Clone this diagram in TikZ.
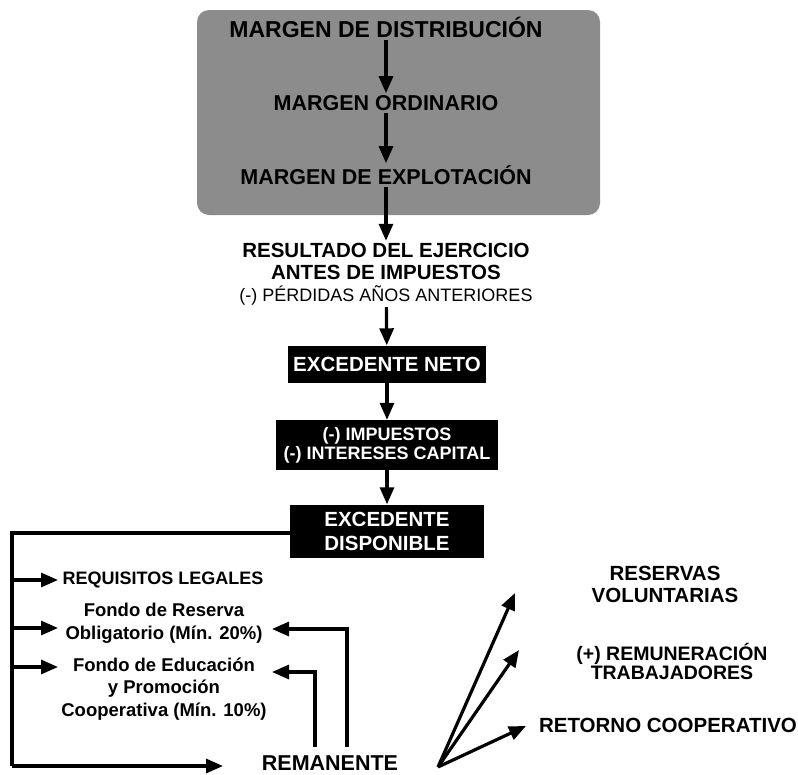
\documentclass[tikz,border=0pt]{standalone}
\usepackage{fontspec}
\setmainfont{Liberation Sans}
\usetikzlibrary{arrows.meta}

\begin{document}
\begin{tikzpicture}[x=1pt, y=-1pt,
		arr/.style={line width=3.2pt, -{Triangle[length=17pt, width=14pt]}},
		plain/.style={line width=3.2pt},
		darkbox/.style={fill=black, text=white, font=\fontsize{18}{19}\selectfont\bfseries, align=center, inner sep=0pt},
		bigtxt/.style={font=\fontsize{20.5}{22}\selectfont\bfseries, align=center, inner sep=2pt},
		smalltxt/.style={font=\fontsize{18.5}{22.5}\selectfont\bfseries, align=center, inner sep=2pt}]
		\useasboundingbox (0,0) rectangle (798,774);
		% margenes
		\fill[black!45, rounded corners=12pt] (197,10) rectangle (600,215);
		\node[bigtxt, font=\fontsize{23}{24}\selectfont\bfseries] (dist) at (386,27) {MARGEN DE DISTRIBUCIÓN};
		\node[bigtxt, font=\fontsize{21.5}{24}\selectfont\bfseries] (ord) at (386,103) {MARGEN ORDINARIO};
		\node[bigtxt, font=\fontsize{21.5}{24}\selectfont\bfseries] (expl) at (386,175) {MARGEN DE EXPLOTACIÓN};
		\node[bigtxt] (res) at (386,274) {RESULTADO DEL EJERCICIO\\ANTES DE IMPUESTOS\\{\fontsize{18}{20}\selectfont\mdseries (-) PÉRDIDAS AÑOS ANTERIORES}};
		\draw[arr] (dist) -- (ord);
		\draw[arr] (ord) -- (expl);
		\draw[arr] (expl) -- (res);
		% cajas negras
		\node[darkbox, minimum width=198pt, minimum height=37pt, font=\fontsize{20.5}{22}\selectfont\bfseries] (neto) at (387,364) {EXCEDENTE NETO};
		\node[darkbox, minimum width=222pt, minimum height=50pt] (imp) at (387,445) {(-) IMPUESTOS\\(-) INTERESES CAPITAL};
		\node[darkbox, minimum width=194pt, minimum height=53pt, font=\fontsize{20.5}{24}\selectfont\bfseries] (disp) at (387,531) {EXCEDENTE\\DISPONIBLE};
		\draw[arr] (res) -- (neto);
		\draw[arr] (neto) -- (imp);
		\draw[arr] (imp) -- (disp);
		% reparto
		\node[smalltxt, font=\fontsize{18}{19}\selectfont\bfseries] (req) at (163,580) {REQUISITOS LEGALES};
		\node[smalltxt] (fres) at (164,623) {Fondo de Reserva\\Obligatorio (Mín. 20\%)};
		\node[smalltxt] (fedu) at (164,689) {Fondo de Educación\\y Promoción\\Cooperativa (Mín. 10\%)};
		\node[bigtxt, font=\fontsize{21.5}{22}\selectfont\bfseries] (rem) at (330,763) {REMANENTE};
		\coordinate (c1) at (12,533);
		\coordinate (c2) at (12,766);
		\draw[plain] (disp.west |- c1) -- (c1) -- (c2);
		\draw[arr] (c2) -- (223,766);
		\foreach \y in {580, 628, 667}
			\draw[arr] (12,\y) -- (58,\y);
		\coordinate (r1) at (347,747);
		\coordinate (r2) at (315,747);
		\draw[arr] (r1) |- (272,629);
		\draw[arr] (r2) |- (272,672);
		% derecha
		\node[bigtxt] (vol) at (665,584) {RESERVAS\\VOLUNTARIAS};
		\node[bigtxt, font=\fontsize{19.5}{19}\selectfont\bfseries] (remu) at (672,661) {(+) REMUNERACIÓN\\TRABAJADORES};
		\node[bigtxt] (ret) at (668,725) {RETORNO COOPERATIVO};
		\coordinate (fan) at (438,767);
		\draw[arr] (fan) -- (515,593);
		\draw[arr] (fan) -- (519,650);
		\draw[arr] (fan) -- (526,726);
	\end{tikzpicture}
\end{document}
